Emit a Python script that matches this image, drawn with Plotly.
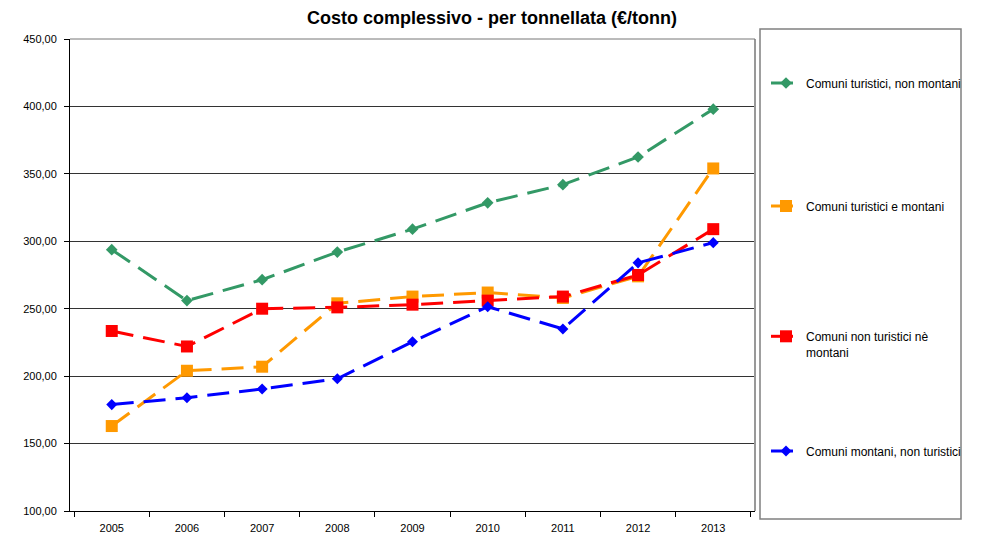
import plotly.graph_objects as go

years = ["2005", "2006", "2007", "2008", "2009", "2010", "2011", "2012", "2013"]

green_vals = [293.8, 256.0, 271.5, 292.0, 309.0, 328.5, 342.0, 362.5, 398.0]
orange_vals = [163.0, 204.0, 207.0, 254.0, 259.0, 262.0, 258.0, 274.0, 354.0]
red_vals = [233.5, 222.0, 250.0, 251.0, 253.0, 256.0, 259.0, 275.0, 309.0]
blue_vals = [178.9, 184.0, 190.5, 198.0, 225.5, 251.5, 235.0, 284.0, 299.0]

names = [
    "Comuni turistici, non montani",
    "Comuni turistici e montani",
    "Comuni non turistici nè<br>montani",
    "Comuni montani, non turistici",
]
series = [green_vals, orange_vals, red_vals, blue_vals]
colors = ["#339966", "#FF9900", "#FF0000", "#0000FF"]
symbols = ["diamond", "square", "square", "diamond"]
sizes = [9, 12, 12, 8.5]
legends = ["legend", "legend2", "legend3", "legend4"]

W, H = 984, 538
ML, MR, MT, MB = 70, 229, 39, 27
PW = W - ML - MR
PH = H - MT - MB


def px_x(px):
    return (px - ML) / PW


def px_y(py):
    return (H - MB - py) / PH


fig = go.Figure()
for name, vals, c, s, sz, lg in zip(names, series, colors, symbols, sizes, legends):
    fig.add_trace(go.Scatter(
        x=years, y=vals, name=name, mode="lines+markers",
        line=dict(color=c, width=3, dash="22px,10px"),
        marker=dict(symbol=s, size=sz, color=c, line=dict(width=0)),
        legend=lg, showlegend=True,
    ))

FONT = "Liberation Sans, Arial, sans-serif"
leg_font = dict(family=FONT, size=12, color="#000000")
leg_x = px_x(766)
common = dict(x=leg_x, xanchor="left", bgcolor="rgba(0,0,0,0)", borderwidth=0, font=leg_font)

fig.update_layout(
    width=W, height=H,
    margin=dict(l=ML, r=MR, t=MT, b=MB, autoexpand=False),
    paper_bgcolor="white", plot_bgcolor="white",
    separators=",.",
    showlegend=True,
    title=dict(text="<b>Costo complessivo - per tonnellata (€/tonn)</b>",
               x=0.5, xref="container", xanchor="center",
               y=1 - 18 / H, yref="container", yanchor="middle",
               font=dict(family=FONT, size=18, color="#000000")),
    legend=dict(y=px_y(83), yanchor="middle", **common),
    legend2=dict(y=px_y(206), yanchor="middle", **common),
    legend3=dict(y=px_y(322), yanchor="top", valign="top", **common),
    legend4=dict(y=px_y(451), yanchor="middle", **common),
    xaxis=dict(
        type="category", tickson="boundaries", ticks="outside", ticklen=5,
        tickcolor="#000000", showline=True, linecolor="#000000", linewidth=1,
        showgrid=False, zeroline=False, ticklabelstandoff=7, automargin=False,
        tickfont=dict(family=FONT, size=11, color="#000000"),
    ),
    yaxis=dict(
        range=[100, 450], dtick=50, tick0=100, tickformat=".2f",
        ticks="outside", ticklen=5, tickcolor="#000000",
        showline=True, linecolor="#000000", linewidth=1,
        showgrid=True, gridcolor="#333333", gridwidth=1, zeroline=False,
        ticklabelstandoff=5, automargin=False,
        tickfont=dict(family=FONT, size=11, color="#000000"),
    ),
    shapes=[
        dict(type="line", xref="paper", yref="paper", x0=1, x1=1, y0=0, y1=1,
             line=dict(color="#999999", width=2)),
        dict(type="line", xref="paper", yref="paper", x0=0, x1=1, y0=1, y1=1,
             line=dict(color="#777777", width=1)),
        dict(type="rect", xref="paper", yref="paper",
             x0=px_x(760), x1=px_x(961), y0=px_y(519), y1=px_y(29),
             line=dict(color="#808080", width=1.5), fillcolor="rgba(0,0,0,0)"),
    ],
)

fig.write_html("out.html")
